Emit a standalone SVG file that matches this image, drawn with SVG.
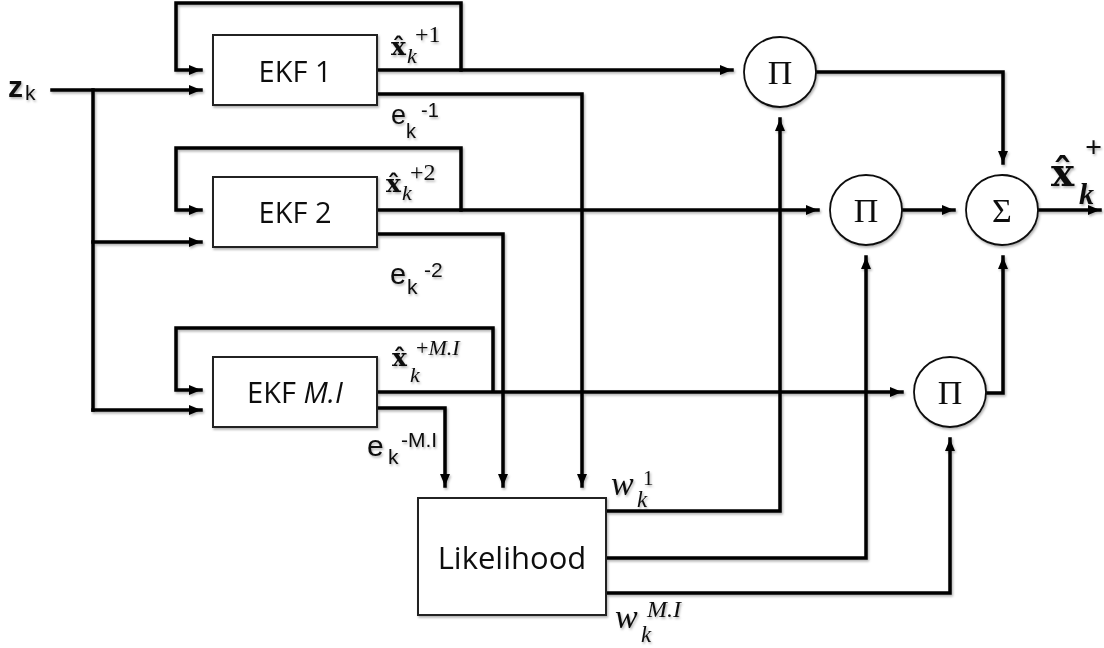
<svg xmlns="http://www.w3.org/2000/svg" width="1104" height="648" viewBox="0 0 1104 648">
<style>
.box{fill:#fff;stroke:#222;stroke-width:2}
.circ{fill:#fff;stroke:#111;stroke-width:1.8}
.wire{fill:none;stroke:#000;stroke-width:3.5;stroke-linejoin:miter;stroke-linecap:square}
.node{font-family:"Open Sans","Liberation Sans",sans-serif;fill:#111;text-anchor:middle}
.op{font-family:"Liberation Serif","DejaVu Serif",serif;fill:#111;text-anchor:middle;font-size:34px}
.sans{font-family:"Liberation Sans",Arial,sans-serif;fill:#111}
.math{font-family:"Liberation Serif","DejaVu Serif",serif;fill:#111}
.hatx{font-family:"DejaVu Serif","Liberation Serif",serif;font-weight:bold}
.b{font-weight:bold}
.i{font-style:italic}
</style>
<defs>
<marker id="ah" markerWidth="12" markerHeight="10" refX="12" refY="5" orient="auto" markerUnits="userSpaceOnUse"><path d="M0,0 L12,5 L0,10 z" fill="#000"/></marker>
<filter id="sh" x="-5%" y="-5%" width="110%" height="110%"><feDropShadow dx="1.2" dy="1.8" stdDeviation="1.2" flood-color="#000" flood-opacity="0.3"/></filter>
</defs>
<g filter="url(#sh)">
<g id="connectors">
<path class="wire" d="M52,90 H201" marker-end="url(#ah)"/>
<path class="wire" d="M93,90 V410"/>
<path class="wire" d="M93,242 H201" marker-end="url(#ah)"/>
<path class="wire" d="M93,410 H201" marker-end="url(#ah)"/>
<path class="wire" d="M461,70 V3 H176 V70 H201" marker-end="url(#ah)"/>
<path class="wire" d="M461,210 V148 H176 V210 H201" marker-end="url(#ah)"/>
<path class="wire" d="M493,391 V328 H176 V390 H201" marker-end="url(#ah)"/>
<path class="wire" d="M377,70 H732" marker-end="url(#ah)"/>
<path class="wire" d="M377,210 H818" marker-end="url(#ah)"/>
<path class="wire" d="M377,392 H902" marker-end="url(#ah)"/>
<path class="wire" d="M377,94 H582 V486" marker-end="url(#ah)"/>
<path class="wire" d="M377,234 H503 V486" marker-end="url(#ah)"/>
<path class="wire" d="M377,408 H445 V486" marker-end="url(#ah)"/>
<path class="wire" d="M606,511 H780 V119" marker-end="url(#ah)"/>
<path class="wire" d="M606,558 H866 V257" marker-end="url(#ah)"/>
<path class="wire" d="M606,593 H950 V439" marker-end="url(#ah)"/>
<path class="wire" d="M816,72 H1003 V163" marker-end="url(#ah)"/>
<path class="wire" d="M902,210 H954" marker-end="url(#ah)"/>
<path class="wire" d="M986,393 H1003 V257" marker-end="url(#ah)"/>
<path class="wire" d="M1038,210 H1100" marker-end="url(#ah)"/>
</g>
<g id="ekf1">
<rect class="box" x="213" y="35" width="164" height="70"/>
<text class="node" x="295" y="82" font-size="29">EKF 1</text>
</g>
<g id="ekf2">
<rect class="box" x="213" y="177" width="164" height="70"/>
<text class="node" x="295" y="223" font-size="29">EKF 2</text>
</g>
<g id="ekfMI">
<rect class="box" x="213" y="357" width="164" height="70"/>
<text class="node" x="295" y="403" font-size="29">EKF <tspan class="i">M.I</tspan></text>
</g>
<g id="likelihood">
<rect class="box" x="418" y="498" width="188" height="117"/>
<text class="node" x="512" y="569" font-size="31">Likelihood</text>
</g>
<g id="prod1">
<ellipse class="circ" cx="780" cy="72" rx="36" ry="35"/>
<text class="op" x="780" y="84">Π</text>
</g>
<g id="prod2">
<ellipse class="circ" cx="866" cy="210" rx="36" ry="35"/>
<text class="op" x="866" y="222">Π</text>
</g>
<g id="prod3">
<ellipse class="circ" cx="950" cy="392" rx="36" ry="35"/>
<text class="op" x="950" y="404">Π</text>
</g>
<g id="sum">
<ellipse class="circ" cx="1002" cy="210" rx="36" ry="35"/>
<text class="op" x="1002" y="222">Σ</text>
</g>
<g id="labels">
<text class="sans"><tspan x="8" y="97" font-size="30" class="b">z</tspan><tspan x="25" y="100" font-size="21">k</tspan></text>
<text class="math"><tspan x="391" y="55" font-size="25" class="hatx">x&#x302;</tspan><tspan x="407" y="63" font-size="22" class="i">k</tspan><tspan x="415" y="42" font-size="24">+1</tspan></text>
<text class="math"><tspan x="386" y="192" font-size="25" class="hatx">x&#x302;</tspan><tspan x="402" y="200" font-size="22" class="i">k</tspan><tspan x="410" y="180" font-size="24">+2</tspan></text>
<text class="math"><tspan x="392" y="366" font-size="25" class="hatx">x&#x302;</tspan><tspan x="410" y="382" font-size="22" class="i">k</tspan><tspan x="416" y="355" font-size="22">+</tspan><tspan font-size="22" class="i">M.I</tspan></text>
<text class="sans"><tspan x="391" y="124" font-size="27">e</tspan><tspan x="406" y="138" font-size="20">k</tspan><tspan x="421" y="117" font-size="20">-1</tspan></text>
<text class="sans"><tspan x="390" y="284" font-size="29">e</tspan><tspan x="407" y="294" font-size="21">k</tspan><tspan x="424" y="277" font-size="21">-2</tspan></text>
<text class="sans"><tspan x="367" y="456" font-size="30">e</tspan><tspan x="388" y="464" font-size="21">k</tspan><tspan x="401" y="447" font-size="21">-M.I</tspan></text>
<text class="math i"><tspan x="611" y="495" font-size="34">w</tspan><tspan x="637" y="507" font-size="23">k</tspan><tspan x="643" y="485" font-size="21" font-style="normal">1</tspan></text>
<text class="math i"><tspan x="615" y="628" font-size="34">w</tspan><tspan x="641" y="642" font-size="23">k</tspan><tspan x="647" y="617" font-size="24">M.I</tspan></text>
<text class="math b"><tspan x="1051" y="186" font-size="39" class="hatx">x&#x302;</tspan><tspan x="1079" y="204" font-size="30" class="i">k</tspan><tspan x="1085" y="157" font-size="30">+</tspan></text>
</g>
</g>
</svg>
